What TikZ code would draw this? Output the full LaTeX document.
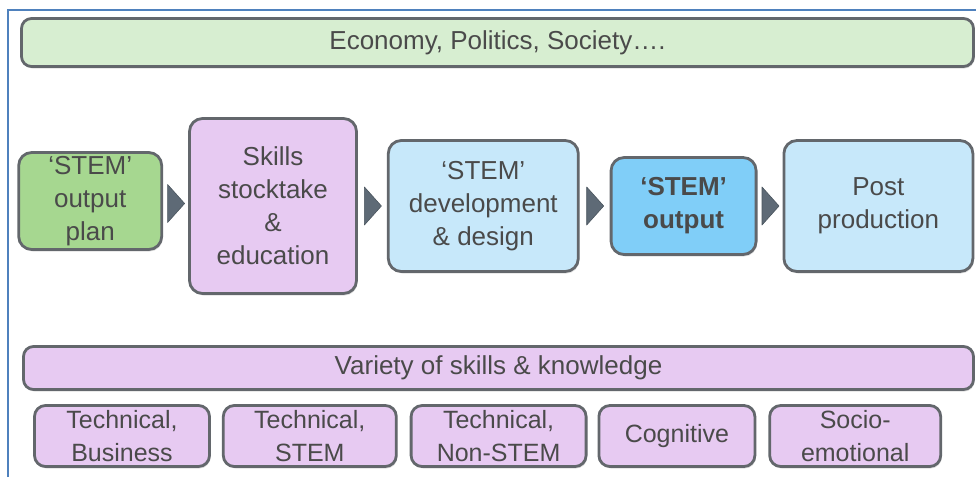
\documentclass[tikz,border=0pt]{standalone}
\usepackage{fontspec}
\setmainfont{Liberation Sans}
\usetikzlibrary{positioning,shadows}
\definecolor{frameblue}{HTML}{4F81BD}
\definecolor{boxline}{HTML}{63676C}
\definecolor{txtgray}{HTML}{4A4A4A}
\definecolor{ctxgreen}{HTML}{D7EED1}
\definecolor{plangreen}{HTML}{A6D790}
\definecolor{skillpink}{HTML}{E7CAF2}
\definecolor{paleblue}{HTML}{C7E8FA}
\definecolor{stemblue}{HTML}{80CEF8}
\definecolor{tipgray}{HTML}{5E6A76}

\begin{document}
\begin{tikzpicture}[x=1pt,y=-1pt,
    stage box/.style={rounded corners=13pt,draw=boxline,line width=2.8pt,align=center,text=txtgray,
        inner sep=0pt,font=\fontsize{26}{33}\selectfont,
        drop shadow={shadow xshift=1pt,shadow yshift=-2pt,opacity=0.25}},
    bar box/.style={stage box,rounded corners=10pt},
    skill box/.style={stage box,rounded corners=11pt,fill=skillpink,minimum height=61pt,
        font=\fontsize{25}{33}\selectfont},
    tri/.style={fill=tipgray,draw=tipgray!80!black,line width=0.6pt,line join=round}]
                \useasboundingbox (0,0) rectangle (976,477);
                \draw[frameblue,line width=2pt] (8,477) -- (8,10) -- (976,10);

                \node[bar box,fill=ctxgreen,minimum width=952pt,minimum height=48pt] (ctx) at (497.5,42.5) {Economy, Politics, Society….};

                \node[stage box,fill=skillpink,minimum width=167pt,minimum height=175pt] (skills) at (273,206) {Skills\\stocktake\\\&\\education};
                \node[stage box,fill=plangreen,minimum width=143pt,minimum height=97pt] (plan) [left=25pt of skills,yshift=5pt] {‘STEM’\\output\\plan};
                \node[stage box,fill=paleblue,minimum width=190pt,minimum height=131pt] (dev) [right=29pt of skills] {‘STEM’\\development\\\& design};
                \node[stage box,fill=stemblue,minimum width=145pt,minimum height=97pt] (out) [right=30pt of dev] {\bfseries ‘STEM’\\\bfseries output};
                \node[stage box,fill=paleblue,minimum width=189pt,minimum height=131pt] (post) [right=25pt of out] {Post\\production};

                \foreach \a/\b in {plan/skills,skills/dev,dev/out,out/post}{
                    \path (\a.east) -- coordinate[midway] (m) (\b.west);
                    \filldraw[tri] ([shift={(-8,-19)}]m) -- ([shift={(9,0)}]m) -- ([shift={(-8,19)}]m) -- cycle;
                }

                \node[bar box,fill=skillpink,minimum width=950pt,minimum height=43pt] (variety) at (498.5,368) {Variety of skills \& knowledge};

                \node[skill box,minimum width=175pt] (tbus) at (122,436) {Technical,\\Business};
                \node[skill box,minimum width=173pt] (tstem) [right=11pt of tbus] {Technical,\\STEM};
                \node[skill box,minimum width=175pt] (tnon) [right=12pt of tstem] {Technical,\\Non-STEM};
                \node[skill box,minimum width=156pt] (cog) [right=10pt of tnon] {Cognitive};
                \node[skill box,minimum width=171pt] (socio) [right=12pt of cog] {Socio-\\emotional};
            \end{tikzpicture}
\end{document}
